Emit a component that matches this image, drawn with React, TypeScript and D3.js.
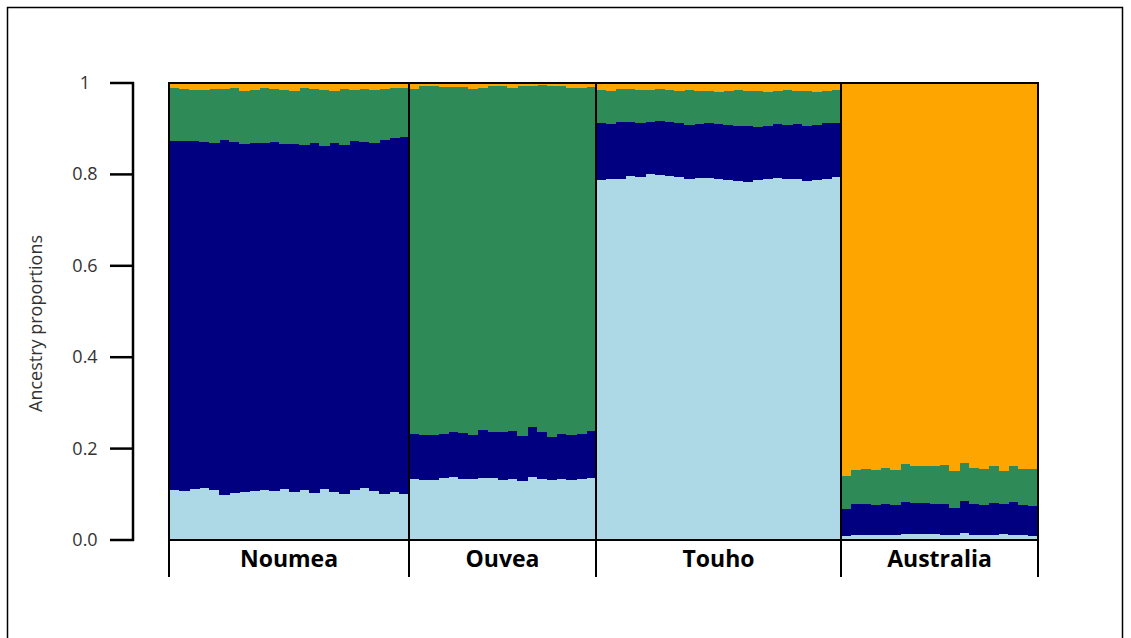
import React from "react";
import * as d3 from "d3";

const populations = ["Noumea", "Ouvea", "Touho", "Australia"];
const clusterColors = ["#ADD8E6", "#000080", "#2E8B57", "#FFA500"];

// per-individual ancestry proportions: [lightblue, navy, green, orange]
const noumeaLightBlue = [0.110,0.108,0.112,0.114,0.109,0.098,0.103,0.106,0.108,0.110,0.108,0.112,0.104,0.109,0.103,0.111,0.104,0.101,0.109,0.113,0.107,0.100,0.105,0.101];
const noumeaNavy = [0.762,0.766,0.761,0.756,0.759,0.777,0.768,0.760,0.761,0.758,0.762,0.754,0.763,0.755,0.765,0.751,0.765,0.763,0.763,0.757,0.762,0.776,0.775,0.780];
const noumeaGreen = [0.116,0.112,0.111,0.114,0.118,0.112,0.117,0.117,0.116,0.120,0.116,0.118,0.116,0.124,0.119,0.122,0.113,0.122,0.113,0.117,0.116,0.110,0.109,0.107];
const noumeaOrange = [0.012,0.014,0.016,0.016,0.014,0.013,0.012,0.017,0.015,0.012,0.014,0.016,0.017,0.012,0.013,0.016,0.018,0.014,0.015,0.013,0.015,0.014,0.011,0.012];

const ouveaLightBlue = [0.133,0.131,0.132,0.135,0.137,0.134,0.133,0.136,0.135,0.132,0.134,0.129,0.137,0.134,0.131,0.133,0.132,0.134,0.136];
const ouveaNavy = [0.099,0.099,0.098,0.098,0.099,0.101,0.096,0.104,0.101,0.105,0.104,0.099,0.111,0.102,0.095,0.099,0.097,0.097,0.102];
const ouveaGreen = [0.755,0.764,0.764,0.758,0.755,0.756,0.757,0.750,0.757,0.757,0.750,0.766,0.746,0.760,0.767,0.762,0.761,0.758,0.753];
const ouveaOrange = [0.013,0.006,0.006,0.009,0.009,0.009,0.014,0.010,0.007,0.006,0.012,0.006,0.006,0.004,0.007,0.006,0.010,0.011,0.009];

const touhoLightBlue = [0.788,0.790,0.791,0.796,0.795,0.800,0.798,0.797,0.795,0.790,0.792,0.793,0.789,0.788,0.786,0.784,0.787,0.790,0.792,0.791,0.789,0.786,0.788,0.791,0.795];
const touhoNavy = [0.124,0.120,0.123,0.119,0.118,0.115,0.119,0.118,0.118,0.119,0.119,0.119,0.121,0.120,0.120,0.121,0.117,0.117,0.118,0.118,0.122,0.121,0.121,0.121,0.118];
const touhoGreen = [0.073,0.073,0.072,0.072,0.072,0.069,0.069,0.070,0.070,0.075,0.071,0.071,0.071,0.074,0.078,0.078,0.078,0.073,0.073,0.075,0.071,0.076,0.072,0.070,0.071];
const touhoOrange = [0.015,0.017,0.014,0.013,0.015,0.016,0.014,0.015,0.017,0.016,0.018,0.017,0.019,0.018,0.016,0.017,0.018,0.020,0.017,0.016,0.018,0.017,0.019,0.018,0.016];

const australiaLightBlue = [0.009,0.010,0.010,0.011,0.011,0.012,0.013,0.014,0.014,0.013,0.012,0.012,0.016,0.012,0.011,0.010,0.013,0.011,0.010,0.009];
const australiaNavy = [0.059,0.068,0.069,0.066,0.067,0.064,0.070,0.068,0.066,0.066,0.067,0.059,0.069,0.066,0.065,0.071,0.065,0.072,0.067,0.066];
const australiaGreen = [0.072,0.076,0.076,0.076,0.079,0.078,0.084,0.081,0.081,0.084,0.086,0.080,0.083,0.079,0.080,0.082,0.074,0.078,0.078,0.080];
const australiaOrange = [0.860,0.846,0.845,0.847,0.843,0.846,0.833,0.837,0.839,0.837,0.835,0.849,0.832,0.843,0.844,0.837,0.848,0.839,0.845,0.845];

const yTickValues = [0, 0.2, 0.4, 0.6, 0.8, 1];
const yTickLabels = ["0.0", "0.2", "0.4", "0.6", "0.8", "1"];

const popClusters = [
  [noumeaLightBlue, noumeaNavy, noumeaGreen, noumeaOrange],
  [ouveaLightBlue, ouveaNavy, ouveaGreen, ouveaOrange],
  [touhoLightBlue, touhoNavy, touhoGreen, touhoOrange],
  [australiaLightBlue, australiaNavy, australiaGreen, australiaOrange],
];

export default function App() {
  const W = 1131, H = 638;
  const plotTop = 83, plotBottom = 540;
  // pixel boundaries of the population panels
  const panelEdges = [169, 409, 596, 841, 1038];

  type Ind = { pop: number; idx: number; vals: number[] };
  const individuals: Ind[] = [];
  const popStart: number[] = [];
  popClusters.forEach((cl, p) => {
    popStart.push(individuals.length);
    cl[0].forEach((_, i) => {
      individuals.push({ pop: p, idx: individuals.length, vals: cl.map((s) => s[i]) });
    });
  });
  popStart.push(individuals.length);

  const x = d3.scaleLinear().domain(popStart).range(panelEdges);
  const y = d3.scaleLinear().domain([0, 1]).range([plotBottom, plotTop]);

  const stack = d3.stack<Ind, number>()
    .keys([0, 1, 2, 3])
    .value((d, k) => d.vals[k]);
  const series = stack(individuals);

  const font = "'Open Sans', 'Liberation Sans', sans-serif";

  return (
    <svg width={W} height={H} style={{ position: "absolute", left: 0, top: 0 }}>
      <rect x={0} y={0} width={W} height={H} fill="#fff" />
      <rect x={7.5} y={7.5} width={1115} height={660} fill="none" stroke="#000" strokeWidth={1.5} />
      <g shapeRendering="crispEdges">
        {series.map((s, k) =>
          s.map((seg, i) => {
            const d = individuals[i];
            const y0 = y(Math.min(seg[1], 1));
            const y1 = y(seg[0]);
            return (
              <rect
                key={`${k}-${i}`}
                x={x(d.idx)}
                width={x(d.idx + 1) - x(d.idx) + 0.6}
                y={y0}
                height={Math.max(0, y1 - y0)}
                fill={clusterColors[k]}
              />
            );
          })
        )}
      </g>
      {populations.map((p, i) => {
        const x0 = x(popStart[i]);
        const x1 = x(popStart[i + 1]);
        return (
          <g key={p}>
            <rect x={x0} y={plotTop} width={x1 - x0} height={plotBottom - plotTop} fill="none" stroke="#000" strokeWidth={2} />
            <text x={(x0 + x1) / 2} y={567} textAnchor="middle" fontFamily={font} fontWeight="bold" fontSize={23} fill="#000">
              {p}
            </text>
          </g>
        );
      })}
      {popStart.map((s, i) => (
        <line key={`sep${i}`} x1={x(s)} x2={x(s)} y1={plotBottom} y2={577} stroke="#000" strokeWidth={2} />
      ))}
      <line x1={133} x2={133} y1={plotTop - 1} y2={plotBottom + 1} stroke="#000" strokeWidth={2.5} />
      {yTickValues.map((v, i) => (
        <g key={`t${i}`}>
          <line x1={110} x2={134} y1={y(v)} y2={y(v)} stroke="#000" strokeWidth={2.5} />
          <text x={85} y={y(v) + 6} textAnchor="middle" fontFamily={font} fontSize={18} fill="#333">
            {yTickLabels[i]}
          </text>
        </g>
      ))}
      <text
        transform={`translate(42, ${(plotTop + plotBottom) / 2 + 12}) rotate(-90)`}
        textAnchor="middle"
        fontFamily={font}
        fontSize={18}
        fill="#333"
      >
        Ancestry proportions
      </text>
    </svg>
  );
}
